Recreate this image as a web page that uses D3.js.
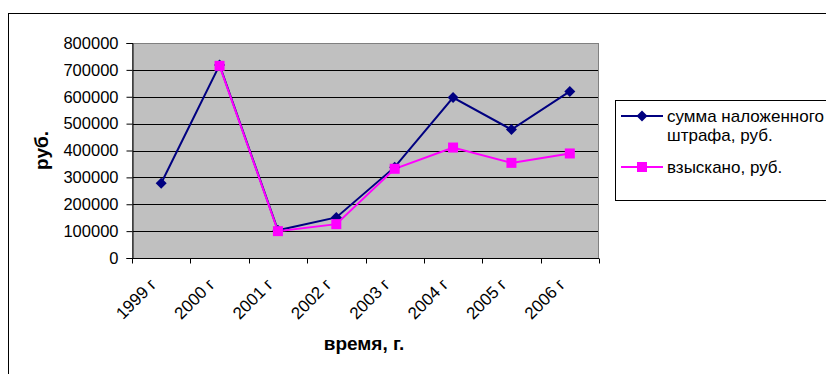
<!DOCTYPE html>
<html>
<head>
<meta charset="utf-8">
<script src="https://cdn.jsdelivr.net/npm/d3@7"></script>
<style>
  html, body { margin: 0; padding: 0; background: #fff; }
  svg { display: block; font-family: "Liberation Sans", Arial, sans-serif; }
</style>
</head>
<body>
<svg id="chart" width="826" height="374"></svg>
<script>
// Years on the category axis
const years = ["1999 г", "2000 г", "2001 г", "2002 г", "2003 г", "2004 г", "2005 г", "2006 г"];
// Fines imposed, rub.
const imposed = [278000, 718000, 103000, 151000, 338000, 597000, 478000, 620000];
// Amounts collected, rub. (no figure for 1999)
const collected = [null, 715000, 100000, 126000, 332000, 411000, 354000, 389000];
// Value axis ticks
const yTicks = [0, 100000, 200000, 300000, 400000, 500000, 600000, 700000, 800000];

const seriesNames = ["сумма наложенного штрафа, руб.", "взыскано, руб."];
const colors = ["#000080", "#FF00FF"];

const svg = d3.select("#chart");
const W = 826, H = 374;
const plot = { left: 132, right: 599, top: 43, bottom: 258 };

// Outer chart frame
svg.append("rect")
  .attr("x", 8.5).attr("y", 13.5)
  .attr("width", W + 10).attr("height", H + 10)
  .attr("fill", "#fff").attr("stroke", "#000").attr("stroke-width", 1);

const x = d3.scaleBand().domain(years).range([plot.left, plot.right]).padding(0);
const y = d3.scaleLinear().domain([0, 800000]).range([plot.bottom, plot.top]);

// Plot background
svg.append("rect")
  .attr("x", plot.left).attr("y", plot.top)
  .attr("width", plot.right - plot.left).attr("height", plot.bottom - plot.top)
  .attr("fill", "#C0C0C0");

// Horizontal gridlines
svg.append("g").selectAll("line")
  .data(yTicks.filter(t => t > 0 && t < 800000))
  .join("line")
  .attr("x1", plot.left).attr("x2", plot.right)
  .attr("y1", d => Math.round(y(d)) + 0.5).attr("y2", d => Math.round(y(d)) + 0.5)
  .attr("stroke", "#000").attr("stroke-width", 1);

// Plot border (gray)
svg.append("rect")
  .attr("x", plot.left + 0.5).attr("y", plot.top + 0.5)
  .attr("width", plot.right - plot.left - 1).attr("height", plot.bottom - plot.top)
  .attr("fill", "none").attr("stroke", "#808080").attr("stroke-width", 1);

// Y axis
const yAxis = svg.append("g")
  .attr("transform", `translate(${plot.left + 0.5},0)`)
  .call(d3.axisLeft(y).tickValues(yTicks).tickFormat(d3.format("d")).tickSize(6).tickPadding(8));
yAxis.select(".domain").attr("stroke", "#000");
yAxis.selectAll(".tick line").attr("stroke", "#000");
yAxis.selectAll(".tick text")
  .attr("font-size", "16.5px").attr("fill", "#000")
  .style("font-family", "'Liberation Sans', Arial, sans-serif");

// X axis with ticks at category boundaries
const xAxisG = svg.append("g")
  .attr("transform", `translate(0,${plot.bottom + 0.5})`);
xAxisG.append("line")
  .attr("x1", plot.left).attr("x2", plot.right)
  .attr("stroke", "#000");
const boundaries = years.map(d => x(d)).concat([x(years[years.length - 1]) + x.bandwidth()]);
xAxisG.selectAll("line.tk").data(boundaries).join("line")
  .attr("class", "tk")
  .attr("x1", d => Math.round(d) + 0.5).attr("x2", d => Math.round(d) + 0.5)
  .attr("y1", 0).attr("y2", 5)
  .attr("stroke", "#000");
xAxisG.selectAll("text").data(years).join("text")
  .attr("transform", d => `translate(${x(d) + x.bandwidth() / 2 - 8},${23}) rotate(-45)`)
  .attr("text-anchor", "end")
  .attr("dy", "0.35em")
  .attr("font-size", "17px")
  .attr("fill", "#000")
  .text(d => d);

// Axis titles
svg.append("text")
  .attr("x", 364).attr("y", 350)
  .attr("text-anchor", "middle")
  .attr("font-size", "19px").attr("font-weight", "bold")
  .text("время, г.");
svg.append("text")
  .attr("transform", `translate(48,${(plot.top + plot.bottom) / 2}) rotate(-90)`)
  .attr("text-anchor", "middle")
  .attr("font-size", "19px").attr("font-weight", "bold")
  .text("руб.");

// Series lines and markers
const cx = d => x(d) + x.bandwidth() / 2;
const line = d3.line()
  .defined(d => d.v != null)
  .x(d => cx(d.year))
  .y(d => y(d.v));

const seriesData = [imposed, collected].map(vals => years.map((yr, i) => ({ year: yr, v: vals[i] })));

seriesData.forEach((pts, si) => {
  svg.append("path")
    .datum(pts)
    .attr("fill", "none")
    .attr("stroke", colors[si])
    .attr("stroke-width", 2)
    .attr("d", line);
});

// Diamonds for fines imposed
svg.append("g").selectAll("path")
  .data(seriesData[0].filter(d => d.v != null))
  .join("path")
  .attr("transform", d => `translate(${cx(d.year)},${y(d.v)})`)
  .attr("d", "M0,-5.5L5.5,0L0,5.5L-5.5,0Z")
  .attr("fill", colors[0]);

// Squares for collected amounts
svg.append("g").selectAll("rect")
  .data(seriesData[1].filter(d => d.v != null))
  .join("rect")
  .attr("x", d => cx(d.year) - 5).attr("y", d => y(d.v) - 5)
  .attr("width", 10).attr("height", 10)
  .attr("fill", colors[1]);

// Legend
const lg = svg.append("g");
lg.append("rect")
  .attr("x", 615.5).attr("y", 100.5)
  .attr("width", 230).attr("height", 100)
  .attr("fill", "#fff").attr("stroke", "#000");

const legendRows = [
  { lines: ["сумма наложенного", "штрафа, руб."], y: 116, marker: "diamond" },
  { lines: ["взыскано, руб."], y: 167, marker: "square" }
];
legendRows.forEach((r, i) => {
  lg.append("line")
    .attr("x1", 621).attr("x2", 663)
    .attr("y1", r.y).attr("y2", r.y)
    .attr("stroke", colors[i]).attr("stroke-width", 2);
  if (r.marker === "diamond") {
    lg.append("path")
      .attr("transform", `translate(642,${r.y})`)
      .attr("d", "M0,-5.5L5.5,0L0,5.5L-5.5,0Z")
      .attr("fill", colors[i]);
  } else {
    lg.append("rect")
      .attr("x", 637).attr("y", r.y - 5).attr("width", 10).attr("height", 10)
      .attr("fill", colors[i]);
  }
  r.lines.forEach((t, j) => {
    lg.append("text")
      .attr("x", 667).attr("y", r.y + j * 19.5)
      .attr("dy", "0.35em")
      .attr("font-size", "17px")
      .attr("fill", "#000")
      .text(t);
  });
});
</script>
</body>
</html>
